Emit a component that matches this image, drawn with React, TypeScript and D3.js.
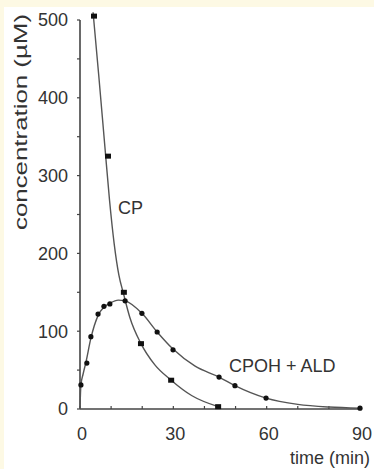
import React from "react";
import * as d3 from "d3";

// ---- data ----
// measured points (time in min, concentration in µM)
const cpTimes = [4.5, 9.0, 14.1, 19.6, 29.3, 44.4];
const cpValues = [505, 325, 150, 84, 37, 3];

const cpohTimes = [0.3, 2.2, 3.5, 5.8, 7.7, 9.6, 14.5, 19.9, 24.8, 29.9, 44.7, 49.8, 59.8, 90];
const cpohValues = [31, 59, 93, 122, 132, 135, 139, 123, 99, 76, 41, 30, 14, 1];

// fitted curves
const cpCurveTimes = [4.2, 6, 8, 9.5, 11, 12.5, 14, 16, 19.6, 24, 29.3, 36, 44.4];
const cpCurveValues = [510, 430, 337, 268, 212, 172, 148, 118, 84, 57, 37, 17, 3];

const cpohCurveTimes = [0, 0.1, 0.3, 1, 1.9, 3.5, 5.8, 7.7, 9.6, 12.3, 14.5, 19.9, 24.8, 29.9, 37, 44.7, 49.8, 59.8, 70, 80, 90];
const cpohCurveValues = [0, 14, 31, 45, 60, 91, 120, 131, 136, 140, 139, 123, 99, 77, 55, 41, 30, 14, 6, 2.5, 1];

const xTickLabels = [0, 30, 60, 90];
const yTickLabels = [0, 100, 200, 300, 400, 500];
const xMinorTicks = [0, 10, 20, 30, 40, 50, 60, 70, 80, 90];
const yMinorTicks = [0, 50, 100, 150, 200, 250, 300, 350, 400, 450, 500];

const W = 374;
const H = 469;

export default function App() {
  const x = d3.scaleLinear().domain([0, 90]).range([80, 360]);
  const y = d3.scaleLinear().domain([0, 500]).range([409, 20]);

  const line = d3
    .line<[number, number]>()
    .x((d) => x(d[0]))
    .y((d) => y(d[1]))
    .curve(d3.curveMonotoneX);

  const cpCurve = line(cpCurveTimes.map((t, i) => [t, cpCurveValues[i]] as [number, number])) || "";
  const cpohCurve = line(cpohCurveTimes.map((t, i) => [t, cpohCurveValues[i]] as [number, number])) || "";

  const font = "'Liberation Sans', Arial, Helvetica, sans-serif";
  const ink = "#333";
  const lineCol = "#555";

  return (
    <svg
      width={W}
      height={H}
      viewBox={`0 0 ${W} ${H}`}
      style={{ position: "absolute", left: 0, top: 0, display: "block" }}
      fontFamily={font}
    >
      <rect x={0} y={0} width={W} height={H} fill="#fff" />
      <rect x={0} y={0} width={W} height={7} fill="#fdf9e4" />
      <rect x={0} y={0} width={4} height={H} fill="#fdf9e4" />

      {/* axes */}
      <line x1={x(0)} x2={x(0)} y1={y(500)} y2={y(0)} stroke="#444" strokeWidth={1.6} />
      <line x1={x(0)} x2={x(90) + 2} y1={y(0)} y2={y(0)} stroke="#444" strokeWidth={1.6} />

      {yMinorTicks.map((v) => (
        <line key={"yt" + v} x1={x(0) - 3} x2={x(0)} y1={y(v)} y2={y(v)} stroke="#444" strokeWidth={1.2} />
      ))}
      {xMinorTicks.map((v) => (
        <line key={"xt" + v} x1={x(v)} x2={x(v)} y1={y(0)} y2={y(0) - 3} stroke="#444" strokeWidth={1.2} />
      ))}

      {yTickLabels.map((v) => (
        <text key={"yl" + v} x={68} y={y(v) + 6.4} textAnchor="end" fontSize={18} fill={ink}>
          {v}
        </text>
      ))}
      {xTickLabels.map((v) => (
        <text key={"xl" + v} x={x(v) + 2} y={440} textAnchor="middle" fontSize={18} fill={ink}>
          {v}
        </text>
      ))}

      <text
        transform="translate(27,122) rotate(-90)"
        textAnchor="middle"
        fontSize={18}
        fill={ink}
        textLength={216}
        lengthAdjust="spacingAndGlyphs"
      >
        concentration (µM)
      </text>
      <text x={370} y={464} textAnchor="end" fontSize={18} fill={ink}>
        time (min)
      </text>

      {/* curves */}
      <path d={cpCurve} fill="none" stroke={lineCol} strokeWidth={1.4} />
      <path d={cpohCurve} fill="none" stroke={lineCol} strokeWidth={1.4} />

      {/* markers */}
      {cpTimes.map((t, i) => (
        <rect key={"cp" + i} x={x(t) - 3} y={y(cpValues[i]) - 2.5} width={6} height={5} fill="#111" />
      ))}
      {cpohTimes.map((t, i) => (
        <circle key={"co" + i} cx={x(t)} cy={y(cpohValues[i])} r={2.6} fill="#111" />
      ))}

      <text x={118} y={214} fontSize={18} fill={ink}>
        CP
      </text>
      <text x={229} y={372} fontSize={18} fill={ink}>
        CPOH + ALD
      </text>
    </svg>
  );
}
